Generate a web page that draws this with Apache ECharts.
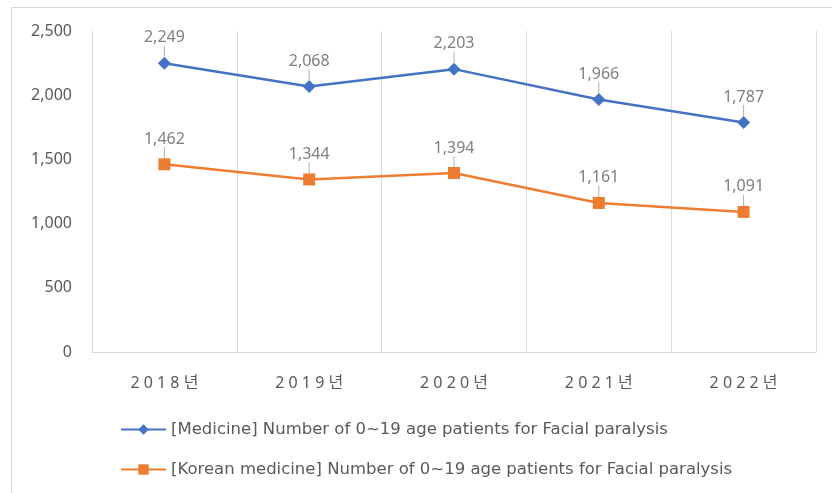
<!DOCTYPE html>
<html>
<head>
<meta charset="utf-8">
<script src="https://cdn.jsdelivr.net/npm/echarts@6/dist/echarts.min.js"></script>
<style>
  html, body { margin: 0; padding: 0; background: #fff; }
  #chart { width: 832px; height: 493px; }
</style>
</head>
<body>
<div id="chart"></div>
<script>
// 연도별 0~19세 안면마비 환자 수
const years = ['2018년', '2019년', '2020년', '2021년', '2022년']
const medicine = [2249, 2068, 2203, 1966, 1787]
const koreanMedicine = [1462, 1344, 1394, 1161, 1091]
const yTicks = { min: 0, max: 2500, interval: 500 }

const seriesNames = [
  '[Medicine] Number of 0~19 age patients for Facial paralysis',
  '[Korean medicine] Number of 0~19 age patients for Facial paralysis'
]

const fontFamily = '"Noto Sans", "Noto Sans CJK KR", sans-serif'
const fmt = v => v.toLocaleString('en-US')

let myChart = echarts.init(document.getElementById('chart'))

function makeSeries (name, data, color, symbol, size) {
  return {
    name: name,
    type: 'line',
    data: data,
    symbol: symbol,
    symbolSize: size,
    lineStyle: { width: 2.5, color: color },
    itemStyle: { color: color },
    label: {
      show: true,
      position: 'top',
      distance: 6,
      formatter: p => fmt(p.value),
      color: '#7f7f7f',
      fontSize: 16,
      fontFamily: fontFamily
    },
    labelLayout: { dy: -5 },
    labelLine: {
      show: true,
      lineStyle: { color: '#b0b0b0', width: 1 }
    }
  }
}

let option = {
  animation: false,
  graphic: [{
    type: 'rect',
    shape: { x: 11.5, y: 7.5, width: 900, height: 600 },
    style: { fill: 'none', stroke: '#d9d9d9', lineWidth: 1 }
  }],
  grid: {
    left: 92,
    right: 16,
    top: 31,
    bottom: 141,
    containLabel: false
  },
  legend: {
    orient: 'vertical',
    left: 115,
    top: 416,
    itemWidth: 45,
    itemHeight: 13,
    itemGap: 23,
    data: seriesNames,
    textStyle: {
      color: '#595959',
      fontSize: 16.5,
      fontFamily: '"DejaVu Sans", sans-serif'
    }
  },
  xAxis: {
    type: 'category',
    data: years,
    boundaryGap: true,
    axisLine: { show: true, lineStyle: { color: '#d9d9d9', width: 1 } },
    axisTick: { show: false },
    axisLabel: {
      color: '#595959',
      fontSize: 16,
      margin: 23,
      fontFamily: fontFamily,
      formatter: v => v.split('').join(' ')
    },
    splitLine: { show: true, lineStyle: { color: '#d9d9d9', width: 1 } }
  },
  yAxis: {
    type: 'value',
    min: yTicks.min,
    max: yTicks.max,
    interval: yTicks.interval,
    axisLine: { show: false },
    axisTick: { show: false },
    splitLine: { show: false },
    axisLabel: {
      color: '#595959',
      fontSize: 16,
      margin: 20,
      fontFamily: fontFamily,
      formatter: v => fmt(v)
    }
  },
  series: [
    makeSeries(seriesNames[0], medicine, '#4472C4', 'diamond', 13),
    makeSeries(seriesNames[1], koreanMedicine, '#ED7D31', 'rect', 12)
  ]
}
myChart.setOption(option)
window.addEventListener('resize', function () {
  myChart.resize()
})
</script>
</body>
</html>
